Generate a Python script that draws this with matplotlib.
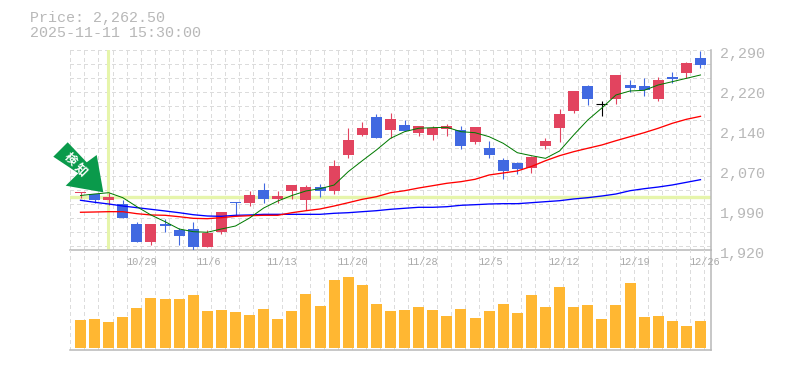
import matplotlib
matplotlib.use("Agg")
import matplotlib.pyplot as plt
from matplotlib.patches import Polygon
from matplotlib.transforms import ScaledTranslation

W, H = 785, 370
MONO = "Liberation Mono"
GRAY = "#b8b8b8"
GRID = "#dcdcdc"

# ---------- data ----------
opens = [2025.4, 2023.0, 2012.5, 2005.1, 1968.1, 1934.8, 1968.1, 1957.0, 1958.9, 1925.5,
         1953.3, 2008.8, 2007.0, 2031.0, 2014.4, 2029.2, 2012.5, 2036.5, 2029.2, 2095.8,
         2132.8, 2166.1, 2142.0, 2151.2, 2136.5, 2132.8, 2143.9, 2142.0, 2119.8, 2108.7,
         2086.5, 2081.0, 2071.7, 2112.4, 2145.7, 2177.2, 2223.4, 2190.1, 2199.4, 2225.3,
         2223.4, 2199.4, 2240.0, 2247.5, 2275.2]
closes = [2028.2, 2012.0, 2018.0, 1979.8, 1934.8, 1968.1, 1964.4, 1945.9, 1925.5, 1951.4,
          1990.3, 2007.0, 2021.8, 2014.4, 2019.9, 2040.2, 2036.5, 2029.2, 2075.4, 2123.5,
          2145.7, 2127.2, 2162.4, 2140.2, 2149.4, 2145.7, 2149.4, 2112.4, 2147.5, 2095.8,
          2066.2, 2069.9, 2092.0, 2121.7, 2171.6, 2214.2, 2199.4, 2190.1, 2243.8, 2219.7,
          2216.0, 2234.5, 2236.4, 2266.0, 2262.3]
highs = [2028.2, 2023.0, 2026.0, 2012.5, 1971.2, 1968.1, 1977.4, 1960.7, 1971.8, 1956.4,
         1990.3, 2008.8, 2029.2, 2043.9, 2029.2, 2040.2, 2040.2, 2042.1, 2086.5, 2145.7,
         2156.8, 2171.6, 2173.4, 2160.5, 2149.4, 2149.4, 2153.1, 2149.4, 2147.5, 2121.7,
         2090.2, 2082.8, 2093.9, 2127.2, 2180.9, 2214.2, 2225.3, 2195.7, 2243.8, 2234.5,
         2238.2, 2240.0, 2249.3, 2267.8, 2288.1]
lows = [2016.2, 2007.0, 2003.2, 1979.8, 1934.8, 1929.2, 1953.3, 1929.2, 1918.2, 1925.5,
        1949.6, 1982.9, 2001.4, 2007.0, 2007.0, 2014.4, 1994.0, 2018.0, 2023.6, 2090.2,
        2130.9, 2127.2, 2127.2, 2140.2, 2130.9, 2123.5, 2130.9, 2106.9, 2116.1, 2090.2,
        2051.4, 2060.6, 2062.5, 2106.9, 2119.8, 2173.4, 2188.3, 2167.9, 2190.1, 2212.3,
        2204.9, 2195.7, 2228.9, 2238.2, 2256.7]
ma_short = [2020.8, 2023.6, 2026.0, 2016.8, 2000.1, 1984.8, 1972.4, 1958.9, 1953.9, 1952.8,
            1958.9, 1964.4, 1979.2, 1997.7, 2010.6, 2020.8, 2029.2, 2033.4, 2040.2, 2064.9,
            2085.2, 2105.0, 2126.6, 2138.9, 2145.2, 2146.3, 2147.0, 2138.9, 2137.0, 2129.6,
            2117.4, 2100.0, 2094.5, 2089.6, 2103.2, 2132.8, 2160.5, 2182.7, 2206.8, 2214.2,
            2215.4, 2225.3, 2231.4, 2237.6, 2243.8]
ma_mid = [1989.8, 1990.3, 1990.9, 1990.9, 1987.2, 1984.8, 1984.2, 1981.6, 1978.6, 1977.9,
          1979.8, 1982.3, 1983.5, 1984.2, 1984.2, 1989.0, 1992.7, 1995.9, 2001.4, 2007.5,
          2013.8, 2018.6, 2026.0, 2029.7, 2034.7, 2039.0, 2043.4, 2046.4, 2050.8, 2058.8,
          2062.5, 2066.2, 2074.5, 2085.2, 2094.5, 2101.9, 2108.2, 2114.3, 2122.2, 2129.6,
          2137.0, 2145.2, 2154.4, 2161.8, 2167.3]
ma_long = [2012.0, 2008.3, 2005.1, 2001.4, 1998.3, 1995.3, 1992.2, 1989.0, 1985.3, 1982.9,
           1982.3, 1984.2, 1984.8, 1986.0, 1986.0, 1986.0, 1986.0, 1986.0, 1987.9, 1989.0,
           1990.9, 1992.7, 1995.3, 1997.2, 1999.0, 1999.0, 2000.1, 2002.7, 2003.8, 2005.1,
           2005.7, 2005.7, 2007.5, 2009.4, 2011.2, 2014.4, 2016.8, 2019.9, 2023.6, 2029.7,
           2033.4, 2036.5, 2040.3, 2045.2, 2050.1]
volumes = [27.7, 28.7, 25.7, 30.7, 39.7, 49.7, 48.7, 48.7, 52.7, 36.7, 37.7, 35.7, 32.7, 38.7, 28.7,
           36.7, 53.7, 41.7, 67.7, 70.7, 62.7, 43.7, 36.7, 37.7, 40.7, 37.7, 31.7, 38.7, 29.7, 36.7,
           43.7, 34.7, 52.7, 40.7, 60.7, 40.7, 42.7, 28.7, 42.7, 64.7, 30.7, 31.7, 26.7, 21.7, 26.7]
price_ticks = [2290, 2216, 2142, 2068, 1994, 1920]
price_labels = ["2,290", "2,220", "2,140", "2,070", "1,990", "1,920"]
date_slots = [5, 10, 15, 20, 25, 30, 35, 40, 45]
date_labels = ["10/29", "11/6", "11/13", "11/20", "11/28", "12/5", "12/12", "12/19", "12/26"]
cross_index = 2
cross_price = 2018.0
title_lines = ["Price: 2,262.50", "2025-11-11 15:30:00"]
arrow_text = ["検", "知"]

# ---------- layout ----------
fig = plt.figure(figsize=(W / 100, H / 100), dpi=100, facecolor="white")
L, R, T, M, B = 70, 710.5, 50, 250, 350
ax = fig.add_axes([L / W, 1 - M / H, (R - L) / W, (M - T) / H])
axv = fig.add_axes([L / W, 1 - B / H, (R - L) / W, (B - M) / H], sharex=ax)
for a in (ax, axv):
    a.set_facecolor("none")

step = 14.09
x = list(range(len(closes)))
ax.set_xlim(-(80.5 - L) / step, 44 + (R - 700.5) / step)
ax.set_ylim(1920, 2290)
axv.set_ylim(-2.3, 97.7)

# grid
grid_x = [-0.725 + k for k in range(46)]
grid_y = [2290 - 25.9 * k for k in range(15)]
grid_style = dict(color=GRID, lw=0.72, linestyles=(0, (3, 3)), zorder=0, antialiased=False)
ax.vlines(grid_x, 1920, 2290, **grid_style)
ax.hlines(grid_y, ax.get_xlim()[0], ax.get_xlim()[1], **grid_style)
axv.vlines(grid_x, -2.3, 97.7, **grid_style)

# crosshair
ax.axvline(cross_index - 0.03, color="#e6f5ab", lw=2.2, zorder=1)
ax.axhline(cross_price, color="#e6f5ab", lw=2.4, zorder=1)

# candles
RED, BLUE = "#e2445f", "#4169e1"
for i in x:
    o, c = opens[i], closes[i]
    col = "black" if c == o else (RED if c > o else BLUE)
    ax.vlines(i, lows[i], highs[i], color=col, lw=0.8, zorder=3)
    if c == o:
        ax.hlines(o, i - 0.39, i + 0.39, color=col, lw=0.8, zorder=3)
    else:
        ax.bar(i, abs(c - o), bottom=min(o, c), width=0.78, color=col, lw=0, zorder=3)

# moving averages
ax.plot(x, ma_long, color="#0000ff", lw=0.95, zorder=4)
ax.plot(x, ma_mid, color="#ff0000", lw=0.95, zorder=4)
ax.plot(x, ma_short, color="#007a00", lw=0.72, zorder=4)

# volume
axv.bar(x, volumes, width=0.78, color="#ffb732", lw=0, zorder=3)

# frame
for a in (ax, axv):
    for s in a.spines.values():
        s.set_visible(False)
    a.spines["right"].set_visible(True)
    a.spines["right"].set_color(GRAY)
    a.spines["right"].set_linewidth(1.1)
    a.spines["bottom"].set_visible(True)
    a.spines["bottom"].set_color(GRAY)
    a.spines["bottom"].set_linewidth(1.1)

# ticks
ax.yaxis.tick_right()
ax.set_yticks(price_ticks, price_labels)
ax.tick_params(axis="y", length=0, pad=7, labelsize=10.8, labelcolor=GRAY)
shift = ScaledTranslation(0, -2.5 / 100, fig.dpi_scale_trans)
for lab in ax.get_yticklabels():
    lab.set_fontfamily(MONO)
    lab.set_transform(lab.get_transform() + shift)
ax.tick_params(axis="x", bottom=False, labelbottom=False)
axv.tick_params(axis="x", bottom=False, labelbottom=False)
axv.set_yticks([])
for slot, lab in zip(date_slots, date_labels):
    axv.annotate(lab, xy=(grid_x[slot], 1), xycoords=("data", "axes fraction"),
                 xytext=(-15 * 0.72, -12 * 0.72), textcoords="offset points",
                 ha="left", va="center", family=MONO, fontsize=7.4, color="#a8a8a8", zorder=5)

# header
for line, py in zip(title_lines, (18, 33)):
    fig.text(30 / W, 1 - py / H, line, family=MONO, fontsize=10.8, color=GRAY, ha="left", va="center")

# signal arrow
arrow_px = [(53.3, 156.7), (67.7, 142.3), (86.7, 162.3), (96.7, 155), (103.3, 192.3), (65.7, 185.7), (78.3, 173.3)]
fig.add_artist(Polygon([(px / W, 1 - py / H) for px, py in arrow_px], closed=True,
                       transform=fig.transFigure, facecolor="#0a9a4b", edgecolor="none", zorder=6))
for ch, (cx, cy) in zip(arrow_text, [(70, 159), (80, 169.5)]):
    fig.text(cx / W, 1 - cy / H, ch, family="Noto Sans CJK JP", fontweight="bold", fontsize=8.8,
             color="white", rotation=-45, rotation_mode="anchor", ha="center", va="center", zorder=7)

fig.savefig("out.png", dpi=100)
